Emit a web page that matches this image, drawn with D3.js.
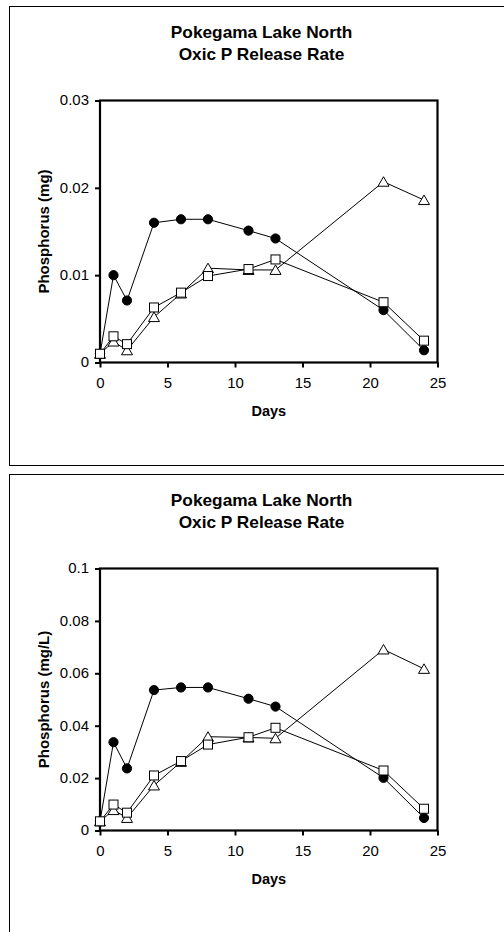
<!DOCTYPE html>
<html>
<head>
<meta charset="utf-8">
<script src="https://cdn.jsdelivr.net/npm/d3@7"></script>
<style>
body { margin: 0; background: #fff; }
text { font-family: "Liberation Sans", Arial, sans-serif; fill: #000; }
</style>
</head>
<body>
<div id="chart"></div>
<script>
// sampling days
const days = [0, 1, 2, 4, 6, 8, 11, 13, 21, 24];

// top panel, phosphorus mass (mg)
const massCircle   = [0.0010, 0.0100, 0.0071, 0.0160, 0.0164, 0.0164, 0.0151, 0.0142, 0.0060, 0.0014];
const massTriangle = [0.0010, 0.0024, 0.0014, 0.0052, 0.0079, 0.0108, 0.0106, 0.0106, 0.0207, 0.0186];
const massSquare   = [0.0010, 0.0030, 0.0021, 0.0063, 0.0080, 0.0099, 0.0107, 0.0118, 0.0069, 0.0025];

// bottom panel, phosphorus concentration (mg/L)
const concCircle   = [0.0035, 0.0337, 0.0237, 0.0536, 0.0546, 0.0546, 0.0503, 0.0473, 0.0201, 0.0048];
const concTriangle = [0.0035, 0.0078, 0.0048, 0.0172, 0.0262, 0.0358, 0.0355, 0.0352, 0.0691, 0.0617];
const concSquare   = [0.0035, 0.0099, 0.0068, 0.0210, 0.0265, 0.0328, 0.0356, 0.0392, 0.0229, 0.0083];

const xTicks = [0, 5, 10, 15, 20, 25];
const massTicks = [0, 0.01, 0.02, 0.03];
const massTickLabels = ["0", "0.01", "0.02", "0.03"];
const concTicks = [0, 0.02, 0.04, 0.06, 0.08, 0.1];
const concTickLabels = ["0", "0.02", "0.04", "0.06", "0.08", "0.1"];

const titleLines = ["Pokegama Lake North", "Oxic P Release Rate"];
const xTitle = "Days";

var svg = d3.select("#chart")
    .append("svg")
    .attr("width", 504)
    .attr("height", 932);

// triangle marker centred on its box
function triPath(cx, cy) {
    return "M" + cx + "," + (cy - 5) + "L" + (cx + 5.5) + "," + (cy + 4.5) + "L" + (cx - 5.5) + "," + (cy + 4.5) + "Z";
}

function drawPanel(top, yTitle, ticks, tickLabels, circle, triangle, square) {
    var g = svg.append("g");

    // outer chart border
    g.append("rect")
        .attr("x", 9.5).attr("y", top + 0.5)
        .attr("width", 505).attr("height", 459)
        .attr("fill", "none")
        .attr("stroke", "#000")
        .attr("stroke-width", 1);

    // title, two lines
    titleLines.forEach(function (t, i) {
        g.append("text")
            .attr("transform", "translate(261.5," + (top + 32 + i * 21.5) + ") scale(1.08,1)")
            .attr("text-anchor", "middle")
            .attr("font-weight", "bold")
            .attr("font-size", "16px")
            .text(t);
    });

    var x = d3.scaleLinear().domain([0, 25]).range([100, 437.5]);
    var y = d3.scaleLinear().domain([0, ticks[ticks.length - 1]]).range([top + 356.5, top + 94.5]);

    // axes
    var xAxis = g.append("g")
        .attr("transform", "translate(0," + y(0) + ")")
        .call(d3.axisBottom(x).tickValues(xTicks).tickSize(5).tickPadding(11));
    xAxis.select(".domain").remove();
    xAxis.selectAll("line").attr("stroke-width", 2);
    xAxis.selectAll("text")
        .attr("font-size", "14px")
        .attr("font-family", null)
        .attr("transform", "scale(1.07,1)");

    var yAxis = g.append("g")
        .attr("transform", "translate(" + x(0) + ",0)")
        .call(d3.axisLeft(y).tickValues(ticks).tickSize(5).tickPadding(6)
            .tickFormat(function (d, i) { return tickLabels[i]; }));
    yAxis.select(".domain").remove();
    yAxis.selectAll("line").attr("stroke-width", 2);
    yAxis.selectAll("text")
        .attr("font-size", "14px")
        .attr("font-family", null)
        .attr("x", -11 / 1.07)
        .attr("transform", "scale(1.07,1)");

    // plot frame
    g.append("rect")
        .attr("x", x(0)).attr("y", y(ticks[ticks.length - 1]))
        .attr("width", x(25) - x(0))
        .attr("height", y(0) - y(ticks[ticks.length - 1]))
        .attr("fill", "none")
        .attr("stroke", "#000")
        .attr("stroke-width", 2.2);

    // axis titles
    g.append("text")
        .attr("transform", "translate(" + ((x(0) + x(25)) / 2) + "," + (y(0) + 53) + ")")
        .attr("text-anchor", "middle")
        .attr("font-weight", "bold")
        .attr("font-size", "14.5px")
        .text(xTitle);

    g.append("text")
        .attr("transform", "translate(49," + ((y(0) + y(ticks[ticks.length - 1])) / 2) + ") rotate(-90)")
        .attr("text-anchor", "middle")
        .attr("font-weight", "bold")
        .attr("font-size", "15px")
        .text(yTitle);

    var line = d3.line()
        .x(function (d) { return x(d[0]); })
        .y(function (d) { return y(d[1]); });

    // filled circles
    var cData = d3.zip(days, circle);
    g.append("path").datum(cData)
        .attr("d", line).attr("fill", "none").attr("stroke", "#000").attr("stroke-width", 1);
    g.selectAll(".dot").data(cData).enter().append("circle")
        .attr("cx", function (d) { return x(d[0]); })
        .attr("cy", function (d) { return y(d[1]); })
        .attr("r", 4.6)
        .attr("fill", "#000")
        .attr("stroke", "#000")
        .attr("stroke-width", 1);

    // open triangles
    var tData = d3.zip(days, triangle);
    g.append("path").datum(tData)
        .attr("d", line).attr("fill", "none").attr("stroke", "#000").attr("stroke-width", 1);
    g.selectAll(".tri").data(tData).enter().append("path")
        .attr("d", function (d) { return triPath(x(d[0]), y(d[1])); })
        .attr("fill", "#fff")
        .attr("stroke", "#000")
        .attr("stroke-width", 1);

    // open squares
    var sData = d3.zip(days, square);
    g.append("path").datum(sData)
        .attr("d", line).attr("fill", "none").attr("stroke", "#000").attr("stroke-width", 1);
    g.selectAll(".sq").data(sData).enter().append("rect")
        .attr("x", function (d) { return x(d[0]) - 4.5; })
        .attr("y", function (d) { return y(d[1]) - 4.5; })
        .attr("width", 9).attr("height", 9)
        .attr("fill", "#fff")
        .attr("stroke", "#000")
        .attr("stroke-width", 1);
}

drawPanel(6, "Phosphorus (mg)", massTicks, massTickLabels, massCircle, massTriangle, massSquare);
drawPanel(474, "Phosphorus (mg/L)", concTicks, concTickLabels, concCircle, concTriangle, concSquare);
</script>
</body>
</html>
